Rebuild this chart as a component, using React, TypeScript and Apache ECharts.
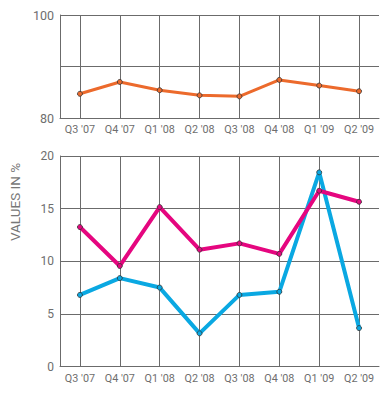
import React, { useEffect, useRef } from "react";
import * as echarts from "echarts";

const categories = ["Q3 '07", "Q4 '07", "Q1 '08", "Q2 '08", "Q3 '08", "Q4 '08", "Q1 '09", "Q2 '09"];
const topSeries = [84.7, 87.0, 85.4, 84.4, 84.2, 87.4, 86.3, 85.2];
const pinkSeries = [13.25, 9.55, 15.15, 11.1, 11.7, 10.7, 16.7, 15.65];
const blueSeries = [6.8, 8.4, 7.5, 3.15, 6.8, 7.1, 18.45, 3.65];
const yTitle = "VALUES IN %";

const GRID_COLOR = "#6b6b6b";
const LABEL_COLOR = "#6e6e6e";
const FONT = "Roboto, 'DejaVu Sans', sans-serif";

export default function App() {
  const ref = useRef<HTMLDivElement>(null);
  useEffect(() => {
    if (!ref.current) return;
    const chart = echarts.init(ref.current, undefined, { renderer: "svg" });
    const xAxisBase = (gridIndex: number, height: number) => ({
      type: "category",
      gridIndex,
      data: categories,
      boundaryGap: true,
      axisLine: { show: true, lineStyle: { color: GRID_COLOR, width: 1 } },
      axisTick: {
        show: true,
        interval: 0,
        alignWithLabel: true,
        inside: true,
        length: height,
        lineStyle: { color: GRID_COLOR, width: 1 },
      },
      splitLine: { show: false },
      axisLabel: { color: LABEL_COLOR, fontSize: 10.8, fontFamily: FONT, margin: 6, interval: 0, hideOverlap: false },
    });
    const sym = (color: string) => ({
      symbol: "circle",
      symbolSize: 5,
      showSymbol: true,
      itemStyle: { color, borderColor: "#333", borderWidth: 0.8 },
    });
    chart.setOption({
      animation: false,
      grid: [
        { left: 60, right: 12, top: 15, height: 103 },
        { left: 60, right: 12, top: 156, height: 210.5 },
      ],
      xAxis: [xAxisBase(0, 103), xAxisBase(1, 210.5)],
      yAxis: [
        {
          type: "value",
          gridIndex: 0,
          min: 80,
          max: 100,
          interval: 10,
          axisLine: { show: true, lineStyle: { color: GRID_COLOR, width: 1 } },
          axisTick: { show: false },
          splitLine: { show: true, lineStyle: { color: GRID_COLOR, width: 1 } },
          axisLabel: {
            color: LABEL_COLOR,
            fontSize: 12.5,
            fontFamily: FONT,
            margin: 6,
            formatter: (v: number) => (v === 90 ? "" : String(v)),
          },
        },
        {
          type: "value",
          gridIndex: 1,
          min: 0,
          max: 20,
          interval: 5,
          axisLine: { show: true, lineStyle: { color: GRID_COLOR, width: 1 } },
          axisTick: { show: false },
          splitLine: { show: true, lineStyle: { color: GRID_COLOR, width: 1 } },
          axisLabel: { color: LABEL_COLOR, fontSize: 12, fontFamily: FONT, margin: 6 },
        },
      ],
      graphic: [
        {
          type: "text",
          x: 15,
          y: 202,
          rotation: Math.PI / 2,
          style: {
            text: yTitle,
            fill: "#777",
            font: `13.5px ${FONT}`,
            align: "center",
            verticalAlign: "middle",
          },
        },
      ],
      series: [
        {
          type: "line",
          xAxisIndex: 0,
          yAxisIndex: 0,
          data: topSeries,
          lineStyle: { color: "#ec6a2c", width: 3 },
          ...sym("#ec6a2c"),
        },
        {
          type: "line",
          xAxisIndex: 1,
          yAxisIndex: 1,
          data: blueSeries,
          lineStyle: { color: "#0aa8e2", width: 4 },
          ...sym("#0aa8e2"),
        },
        {
          type: "line",
          xAxisIndex: 1,
          yAxisIndex: 1,
          data: pinkSeries,
          lineStyle: { color: "#e5067f", width: 4 },
          ...sym("#e5067f"),
        },
      ],
    });
    return () => chart.dispose();
  }, []);
  return <div ref={ref} style={{ width: 391, height: 397, position: "absolute", left: 0, top: 0 }} />;
}
